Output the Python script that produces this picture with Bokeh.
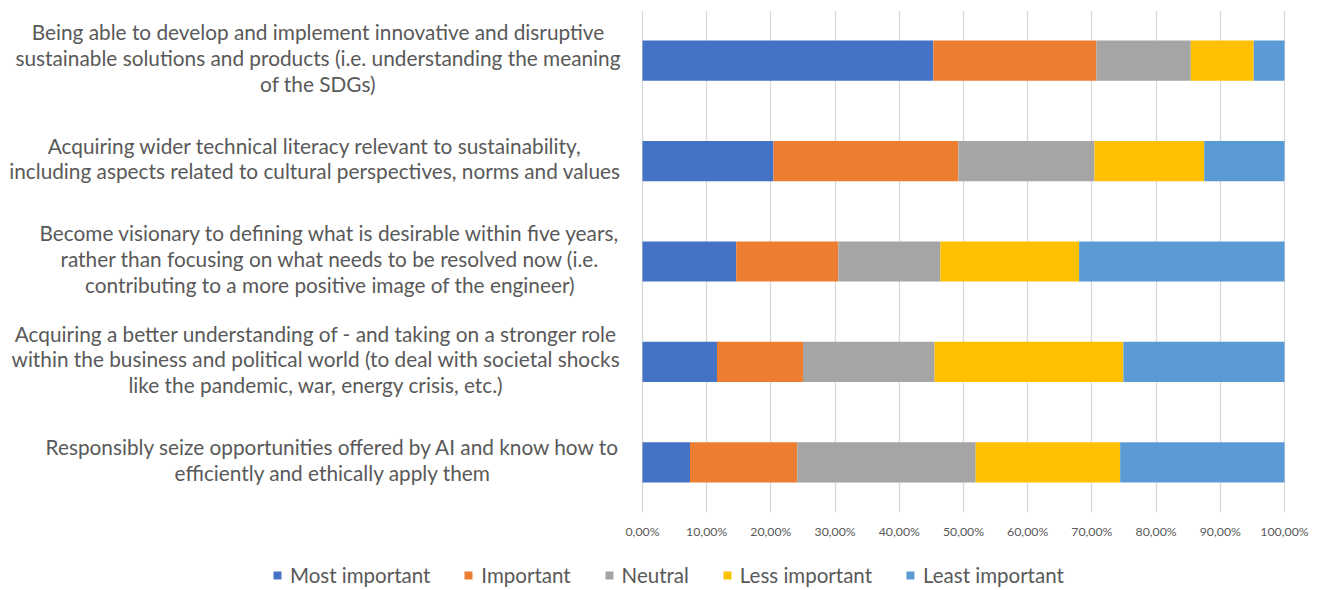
from bokeh.plotting import figure
from bokeh.layouts import column
from bokeh.models import ColumnDataSource, FactorRange, Range1d, FixedTicker, Legend, LegendItem
from bokeh.core.properties import value
from bokeh.embed import file_html
from bokeh.resources import INLINE

categories = [
    "Being able to develop and implement innovative and disruptive\nsustainable solutions and products (i.e. understanding the meaning\nof the SDGs)",
    "Acquiring wider technical literacy relevant to sustainability,\nincluding aspects related to cultural perspectives, norms and values",
    "Become visionary to defining what is desirable within five years,\nrather than focusing on what needs to be resolved now (i.e.\ncontributing to a more positive image of the engineer)",
    "Acquiring a better understanding of - and taking on a stronger role\nwithin the business and political world (to deal with societal shocks\nlike the pandemic, war, energy crisis, etc.)",
    "Responsibly seize opportunities offered by AI and know how to\nefficiently and ethically apply them",
]
series_names = ["Most important", "Important", "Neutral", "Less important", "Least important"]
most_important = [45.3, 20.4, 14.6, 11.6, 7.4]
important = [25.4, 28.8, 15.9, 13.4, 16.7]
neutral = [14.7, 21.2, 15.9, 20.5, 27.8]
less_important = [9.8, 17.1, 21.6, 29.4, 22.5]
least_important = [4.8, 12.5, 32.0, 25.1, 25.6]
tick_values = [0, 10, 20, 30, 40, 50, 60, 70, 80, 90, 100]
tick_labels = ["0,00%", "10,00%", "20,00%", "30,00%", "40,00%", "50,00%",
               "60,00%", "70,00%", "80,00%", "90,00%", "100,00%"]
colors = ["#4472C4", "#ED7D31", "#A5A5A5", "#FFC000", "#5B9BD5"]

keys = ["s0", "s1", "s2", "s3", "s4"]
source = ColumnDataSource(dict(
    cat=categories,
    s0=most_important, s1=important, s2=neutral, s3=less_important, s4=least_important,
    zero=[0] * len(categories),
))

W = 1313
H_MAIN = 547
H_LEG = 43
frame_w = W - 12
px_per = 6.42
start = -642 / px_per
end = start + frame_w / px_per

p = figure(width=W, height=H_MAIN, output_backend="svg", toolbar_location=None,
           y_range=FactorRange(factors=list(reversed(categories))),
           x_range=Range1d(start, end),
           x_axis_location="below", y_axis_location=None,
           min_border_left=0, min_border_right=12, min_border_top=10, min_border_bottom=35)
p.outline_line_color = None
p.background_fill_color = "white"

renderers = p.hbar_stack(keys, y="cat", height=0.4, color=colors, line_color=None, source=source)

p.text(x="zero", y="cat", text="cat", source=source, x_offset=-22, y_offset=-3,
       anchor="center_right", text_align="center", text_baseline="middle",
       text_font=value("Lato"), text_font_size="20.8px", text_color="#595959",
       text_line_height=1.03)

p.xaxis.ticker = FixedTicker(ticks=tick_values)
p.xaxis.major_label_overrides = {v: l for v, l in zip(tick_values, tick_labels)}
p.xaxis.axis_line_color = None
p.xaxis.major_tick_line_color = None
p.xaxis.minor_tick_line_color = None
p.xaxis.major_label_standoff = 5
p.xaxis.major_label_text_font = "Lato"
p.xaxis.major_label_text_font_size = "12.3px"
p.xaxis.major_label_text_color = "#595959"
p.xgrid.grid_line_color = "#D9D9D9"
p.xgrid.grid_line_width = 1.3
p.ygrid.grid_line_color = None

# legend strip below (swatches come from a zero-height, off-screen copy of the same series)
p2 = figure(width=W, height=H_LEG, output_backend="svg", toolbar_location=None,
            y_range=FactorRange(factors=list(reversed(categories))),
            x_range=Range1d(1000, 1001),
            x_axis_location=None, y_axis_location=None,
            min_border_left=0, min_border_right=0, min_border_top=0, min_border_bottom=0)
p2.outline_line_color = None
p2.xgrid.visible = False
p2.ygrid.visible = False
leg_renderers = p2.hbar_stack(keys, y="cat", height=0.0, color=colors, line_color=None, source=source)

legend = Legend(items=[LegendItem(label=n, renderers=[r]) for n, r in zip(series_names, leg_renderers)],
                orientation="horizontal", location=(272, 3),
                border_line_color=None, background_fill_alpha=0,
                label_text_font="Lato", label_text_font_size="20.5px", label_text_color="#595959",
                glyph_width=10, glyph_height=10, label_standoff=8, spacing=33,
                padding=0, margin=0)
p2.add_layout(legend, "center")

layout = column(p, p2, spacing=0)
open("out.html", "w").write(file_html(layout, INLINE))
